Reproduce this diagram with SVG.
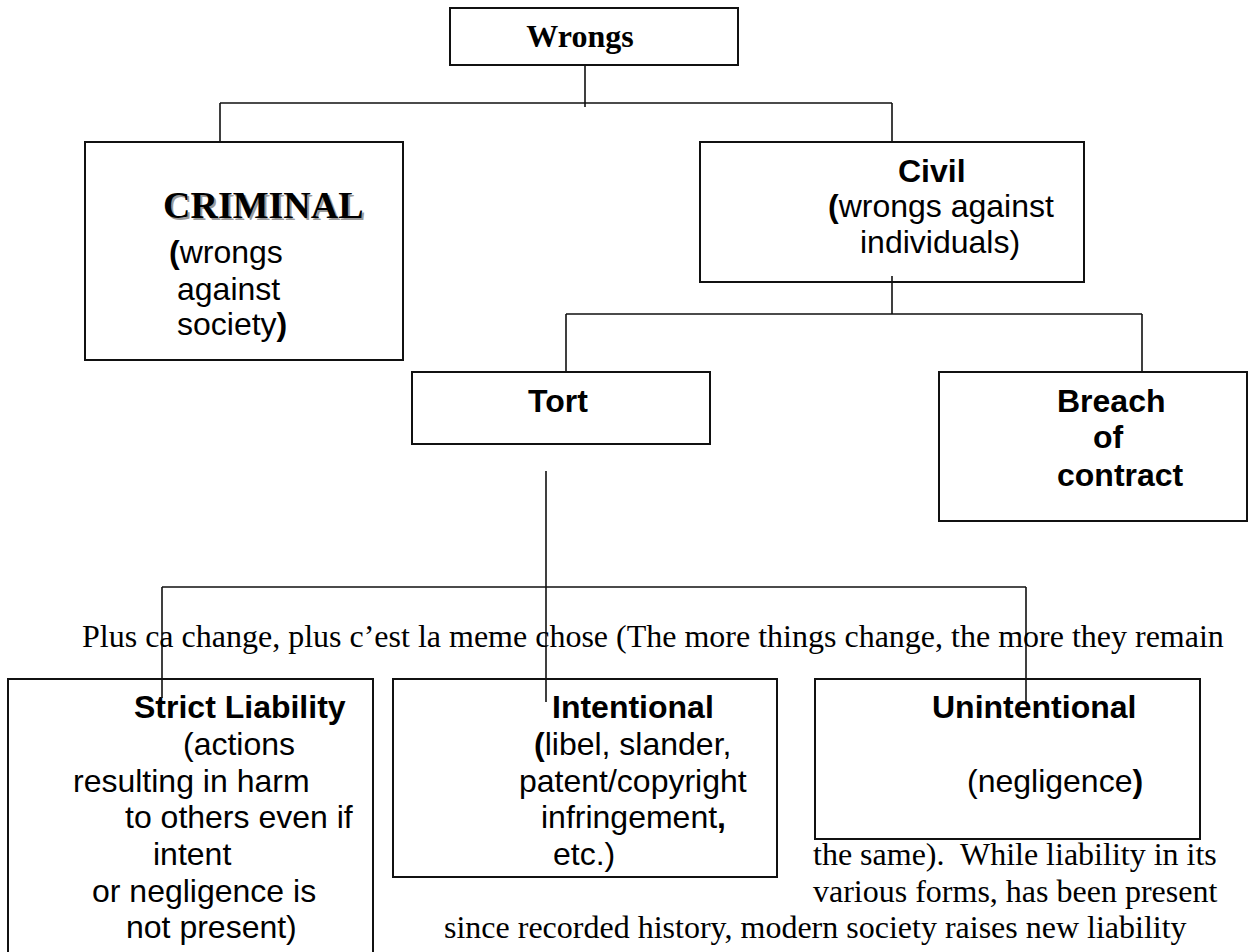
<svg xmlns="http://www.w3.org/2000/svg" width="1249" height="952" viewBox="0 0 1249 952">
<style>
.box{fill:#fff;stroke:#111;stroke-width:2}
.ln{fill:none;stroke:#111;stroke-width:1.6}
.a{font-family:"Liberation Sans",Arial,sans-serif;font-size:32px;fill:#000}
.ab{font-family:"Liberation Sans",Arial,sans-serif;font-size:32px;font-weight:bold;fill:#000}
.t{font-family:"Liberation Serif","Times New Roman",serif;font-size:32px;fill:#000}
.tb{font-family:"Liberation Serif","Times New Roman",serif;font-weight:bold;fill:#000}
.b{font-weight:bold}
</style>
<rect width="1249" height="952" fill="#fff"/>
<g id="wrongs">
<rect class="box" x="450" y="8" width="288" height="57"/>
<text class="tb" x="580" y="47" text-anchor="middle" style="font-size:32px">Wrongs</text>
</g>
<g id="criminal">
<rect class="box" x="85" y="142" width="318" height="218"/>
<text class="tb" x="165" y="220" style="font-size:38px;fill:#9a9a9a">CRIMINAL</text>
<text class="tb" x="163" y="218" style="font-size:38px">CRIMINAL</text>
<text class="a" x="169" y="263"><tspan class="b">(</tspan>wrongs</text>
<text class="a" x="177" y="300">against</text>
<text class="a" x="177" y="335">society<tspan class="b">)</tspan></text>
</g>
<g id="civil">
<rect class="box" x="700" y="142" width="384" height="140"/>
<text class="ab" x="898" y="182">Civil</text>
<text class="a" x="828" y="217"><tspan class="b">(</tspan>wrongs against</text>
<text class="a" x="860" y="253">individuals)</text>
</g>
<g id="tort">
<rect class="box" x="412" y="372" width="298" height="72"/>
<text class="ab" x="528" y="412">Tort</text>
</g>
<g id="breach">
<rect class="box" x="939" y="372" width="308" height="149"/>
<text class="ab" x="1057" y="412">Breach</text>
<text class="ab" x="1093" y="448">of</text>
<text class="ab" x="1057" y="486">contract</text>
</g>
<g id="strict">
<rect class="box" x="8" y="679" width="365" height="290"/>
<text class="ab" x="134" y="718">Strict Liability</text>
<text class="a" x="183" y="755">(actions</text>
<text class="a" x="73" y="792">resulting in harm</text>
<text class="a" x="125" y="828">to others even if</text>
<text class="a" x="153" y="865">intent</text>
<text class="a" x="92" y="902">or negligence is</text>
<text class="a" x="126" y="938">not present)</text>
</g>
<g id="intentional">
<rect class="box" x="393" y="679" width="384" height="198"/>
<text class="ab" x="552" y="718">Intentional</text>
<text class="a" x="534" y="755"><tspan class="b">(</tspan>libel, slander,</text>
<text class="a" x="519" y="792">patent/copyright</text>
<text class="a" x="541" y="828">infringement<tspan class="b">,</tspan></text>
<text class="a" x="553" y="865">etc.)</text>
</g>
<g id="unintentional">
<rect class="box" x="815" y="679" width="385" height="160"/>
<text class="ab" x="932" y="718">Unintentional</text>
<text class="a" x="967" y="792">(negligence<tspan class="b">)</tspan></text>
</g>
<g id="connectors">
<path class="ln" d="M585 65V107M220 103H892M220 103V142M892 103V142"/>
<path class="ln" d="M892 276V314M566 314H1142M566 314V372M1142 314V372"/>
<path class="ln" d="M546 471V702M162 587H1026M162 587V698M1026 587V702"/>
</g>
<g id="body-text">
<text class="t" x="82" y="647">Plus ca change, plus c’est la meme chose (The more things change, the more they remain</text>
<text class="t" x="813" y="865">the same).&#160; While liability in its</text>
<text class="t" x="813" y="902">various forms, has been present</text>
<text class="t" x="444" y="938">since recorded history, modern society raises new liability</text>
</g>
</svg>
